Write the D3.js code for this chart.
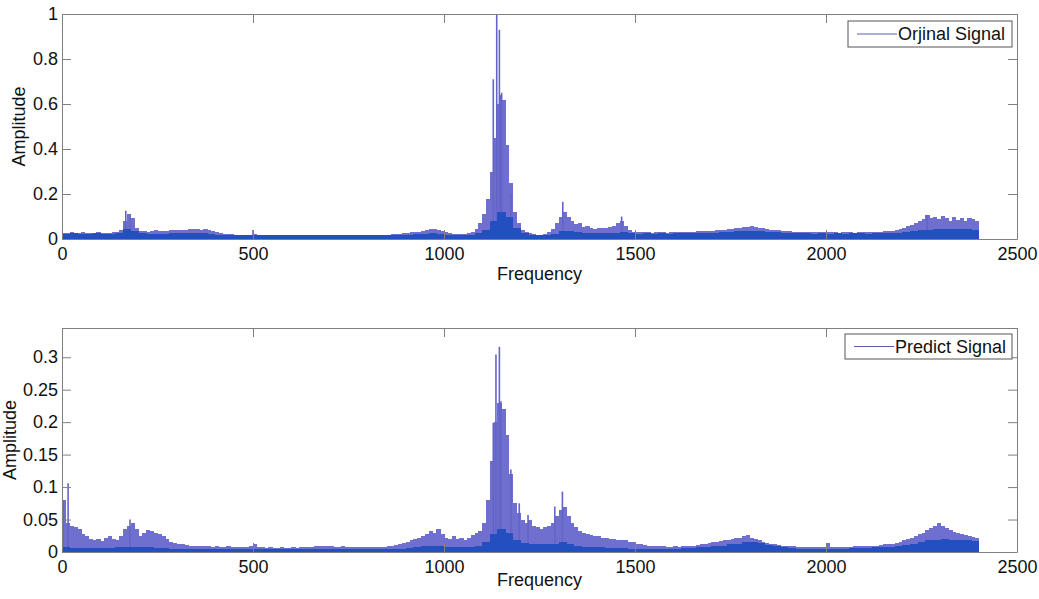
<!DOCTYPE html>
<html><head><meta charset="utf-8">
<script src="https://cdn.jsdelivr.net/npm/d3@7"></script>
<style>
body{margin:0;background:#fff;}
svg{display:block;font-family:"Liberation Sans",Arial,sans-serif;}
</style></head>
<body>
<svg id="c" width="1039" height="599"></svg>
<script>
// ---- data ----
const xTicks = [0, 500, 1000, 1500, 2000, 2500];
const topYTicks = [0, 0.2, 0.4, 0.6, 0.8, 1];
const botYTicks = [0, 0.05, 0.1, 0.15, 0.2, 0.25, 0.3];
const binStep = 10;      // Hz between envelope samples
const floorStep = 20;    // Hz between floor samples

// Orjinal Signal: upper envelope, 0..2390 Hz every 10 Hz
const origPeak = [
0.028,0.026,0.029,0.027,0.026,0.029,0.027,0.026,0.028,0.029,
0.026,0.027,0.028,0.029,0.032,0.042,0.080,0.110,0.095,0.050,
0.034,0.035,0.032,0.036,0.038,0.035,0.034,0.037,0.040,0.038,
0.040,0.042,0.041,0.044,0.046,0.043,0.042,0.045,0.040,0.036,
0.030,0.026,0.023,0.021,0.021,0.019,0.020,0.019,0.018,0.019,
0.022,0.018,0.017,0.018,0.017,0.016,0.017,0.018,0.017,0.016,
0.017,0.016,0.017,0.018,0.017,0.016,0.017,0.016,0.017,0.016,
0.016,0.017,0.016,0.017,0.018,0.017,0.017,0.018,0.017,0.018,
0.018,0.019,0.018,0.019,0.020,0.019,0.021,0.021,0.023,0.025,
0.026,0.029,0.031,0.033,0.036,0.041,0.043,0.046,0.041,0.036,
0.031,0.027,0.023,0.021,0.022,0.023,0.026,0.031,0.045,0.070,
0.110,0.180,0.300,0.450,0.600,0.620,0.420,0.250,0.120,0.070,
0.040,0.030,0.025,0.022,0.020,0.018,0.022,0.030,0.045,0.070,
0.100,0.120,0.100,0.080,0.065,0.070,0.055,0.060,0.050,0.045,
0.050,0.048,0.050,0.055,0.060,0.070,0.080,0.060,0.040,0.033,
0.031,0.030,0.029,0.030,0.028,0.029,0.030,0.029,0.028,0.030,
0.031,0.032,0.030,0.032,0.033,0.032,0.034,0.035,0.034,0.036,
0.037,0.039,0.040,0.042,0.044,0.046,0.047,0.050,0.052,0.054,
0.056,0.052,0.050,0.047,0.044,0.042,0.040,0.038,0.036,0.035,
0.034,0.033,0.032,0.032,0.031,0.030,0.032,0.031,0.030,0.029,
0.032,0.030,0.029,0.028,0.029,0.030,0.029,0.028,0.030,0.029,
0.031,0.032,0.031,0.032,0.033,0.034,0.035,0.037,0.040,0.045,
0.050,0.056,0.062,0.070,0.080,0.090,0.105,0.092,0.100,0.088,
0.104,0.092,0.082,0.098,0.086,0.094,0.082,0.092,0.088,0.078
];
// Orjinal Signal: dense lower band, 0..2380 Hz every 20 Hz
const origFloor = [
0.024,0.025,0.024,0.024,0.025,0.024,0.024,0.026,0.045,0.035,
0.025,0.023,0.023,0.024,0.025,0.025,0.026,0.025,0.025,0.023,
0.019,0.018,0.017,0.017,0.016,0.017,0.016,0.016,0.017,0.016,
0.016,0.016,0.017,0.016,0.016,0.017,0.016,0.017,0.017,0.017,
0.017,0.017,0.018,0.018,0.018,0.019,0.021,0.023,0.025,0.023,
0.019,0.018,0.018,0.019,0.027,0.042,0.080,0.120,0.100,0.050,
0.027,0.020,0.018,0.019,0.024,0.036,0.036,0.030,0.027,0.026,
0.026,0.027,0.028,0.029,0.025,0.024,0.025,0.024,0.025,0.024,
0.025,0.026,0.025,0.026,0.026,0.028,0.030,0.032,0.034,0.036,
0.037,0.034,0.031,0.029,0.027,0.026,0.025,0.025,0.024,0.025,
0.024,0.025,0.024,0.025,0.025,0.024,0.025,0.026,0.026,0.027,
0.030,0.036,0.040,0.042,0.044,0.045,0.044,0.043,0.043,0.042
];
// Orjinal Signal: isolated tall spikes
const origSpikeFreq = [167, 178, 500, 1129, 1138, 1145, 1148, 1151, 1175, 1311, 1465, 2265];
const origSpikeAmp  = [0.126, 0.093, 0.040, 0.710, 1.000, 0.930, 0.640, 0.650, 0.200, 0.166, 0.100, 0.107];

// Predict Signal: upper envelope, 0..2390 Hz every 10 Hz
const predPeak = [
0.080,0.045,0.040,0.038,0.035,0.028,0.025,0.020,0.018,0.020,
0.017,0.022,0.024,0.020,0.018,0.025,0.035,0.040,0.045,0.035,
0.025,0.030,0.034,0.032,0.030,0.028,0.025,0.020,0.016,0.014,
0.013,0.012,0.011,0.010,0.010,0.010,0.009,0.010,0.009,0.008,
0.009,0.008,0.008,0.009,0.008,0.008,0.007,0.008,0.008,0.010,
0.012,0.007,0.007,0.006,0.007,0.006,0.006,0.007,0.006,0.006,
0.007,0.006,0.007,0.007,0.008,0.008,0.009,0.009,0.010,0.009,
0.009,0.008,0.008,0.009,0.008,0.008,0.007,0.007,0.007,0.007,
0.007,0.007,0.007,0.008,0.008,0.009,0.010,0.011,0.012,0.014,
0.016,0.018,0.020,0.022,0.025,0.028,0.032,0.030,0.035,0.028,
0.022,0.020,0.024,0.020,0.022,0.018,0.022,0.026,0.030,0.032,
0.045,0.080,0.140,0.200,0.230,0.220,0.180,0.120,0.075,0.060,
0.050,0.045,0.050,0.040,0.038,0.035,0.038,0.040,0.045,0.055,
0.065,0.070,0.055,0.045,0.038,0.032,0.030,0.028,0.026,0.025,
0.024,0.022,0.021,0.020,0.020,0.019,0.018,0.018,0.016,0.015,
0.013,0.012,0.011,0.010,0.010,0.009,0.009,0.009,0.008,0.008,
0.009,0.008,0.009,0.009,0.010,0.010,0.011,0.012,0.013,0.014,
0.015,0.016,0.017,0.018,0.019,0.020,0.022,0.021,0.024,0.026,
0.022,0.020,0.018,0.016,0.014,0.013,0.012,0.011,0.010,0.010,
0.009,0.009,0.008,0.008,0.008,0.007,0.007,0.007,0.008,0.007,
0.014,0.007,0.008,0.008,0.007,0.008,0.008,0.009,0.009,0.010,
0.009,0.009,0.010,0.010,0.011,0.012,0.012,0.013,0.014,0.016,
0.018,0.020,0.022,0.025,0.028,0.030,0.034,0.037,0.040,0.044,
0.040,0.037,0.034,0.031,0.029,0.027,0.026,0.025,0.023,0.021
];
// Predict Signal: dense lower band, 0..2380 Hz every 20 Hz
const predFloor = [
0.008,0.006,0.006,0.006,0.006,0.006,0.006,0.007,0.008,0.008,
0.007,0.007,0.006,0.006,0.005,0.005,0.005,0.005,0.005,0.004,
0.005,0.004,0.004,0.005,0.004,0.004,0.004,0.004,0.004,0.004,
0.004,0.004,0.005,0.005,0.005,0.005,0.005,0.004,0.004,0.004,
0.004,0.004,0.004,0.005,0.005,0.006,0.008,0.010,0.010,0.009,
0.007,0.007,0.008,0.008,0.010,0.015,0.028,0.035,0.030,0.018,
0.014,0.013,0.012,0.012,0.013,0.015,0.013,0.010,0.008,0.007,
0.007,0.006,0.006,0.006,0.005,0.005,0.005,0.005,0.005,0.005,
0.005,0.006,0.006,0.007,0.008,0.009,0.010,0.012,0.013,0.015,
0.016,0.014,0.011,0.009,0.007,0.006,0.005,0.005,0.005,0.005,
0.005,0.005,0.005,0.006,0.006,0.006,0.007,0.007,0.008,0.009,
0.011,0.013,0.016,0.018,0.019,0.020,0.019,0.019,0.018,0.017
];
// Predict Signal: isolated tall spikes
const predSpikeFreq = [2, 16, 178, 1129, 1136, 1145, 1149, 1175, 1197, 1220, 1290, 1310];
const predSpikeAmp  = [0.080, 0.106, 0.050, 0.199, 0.304, 0.316, 0.232, 0.127, 0.075, 0.057, 0.070, 0.093];

// ---- drawing ----
const svg = d3.select("#c");
const LIGHT = "#6f6fd0", DARK = "#2350c0", SPIKE = "#6464c8";
const BOX = "#808080";
const FS = 18;

function panel(cfg) {
  const x = d3.scaleLinear().domain([0, 2500]).range([62, 1017]);
  const y = d3.scaleLinear().domain([0, cfg.ymax]).range([cfg.bottom, cfg.top]);
  const g = svg.append("g");

  // light envelope bars
  g.append("g").attr("shape-rendering", "crispEdges")
    .selectAll("rect").data(cfg.peak).join("rect")
    .attr("x", (d, i) => x(i * binStep))
    .attr("width", (d, i) => x((i + 1) * binStep) - x(i * binStep) + 0.5)
    .attr("y", d => y(d))
    .attr("height", d => y(0) - y(d))
    .attr("fill", LIGHT);

  // spikes
  g.append("g").selectAll("line").data(cfg.spikeF).join("line")
    .attr("x1", d => x(d)).attr("x2", d => x(d))
    .attr("y1", y(0)).attr("y2", (d, i) => y(cfg.spikeA[i]))
    .attr("stroke", SPIKE).attr("stroke-width", 1.6);

  // dark dense band
  g.append("g").attr("shape-rendering", "crispEdges")
    .selectAll("rect").data(cfg.floor).join("rect")
    .attr("x", (d, i) => x(i * floorStep))
    .attr("width", (d, i) => x((i + 1) * floorStep) - x(i * floorStep) + 0.5)
    .attr("y", d => y(d))
    .attr("height", d => y(0) - y(d))
    .attr("fill", DARK);

  // axes (MATLAB style box, inward ticks)
  const styleAxis = sel => {
    sel.selectAll("path.domain").attr("stroke", BOX);
    sel.selectAll(".tick line").attr("stroke", BOX);
    sel.selectAll(".tick text").attr("fill", "#111").style("font-size", FS + "px")
      .style("font-family", '"Liberation Sans", Arial, sans-serif');
  };
  g.append("g").attr("transform", `translate(0,${cfg.bottom})`)
    .call(d3.axisBottom(x).tickValues(xTicks).tickFormat(d3.format("d"))
      .tickSizeInner(-9).tickSizeOuter(0).tickPadding(8)).call(styleAxis);
  g.append("g").attr("transform", `translate(0,${cfg.top})`)
    .call(d3.axisTop(x).tickValues(xTicks).tickFormat("")
      .tickSizeInner(-9).tickSizeOuter(0)).call(styleAxis);
  g.append("g").attr("transform", `translate(62,0)`)
    .call(d3.axisLeft(y).tickValues(cfg.yTicks).tickFormat(d => String(+d.toFixed(2)))
      .tickSizeInner(-9).tickSizeOuter(0).tickPadding(4)).call(styleAxis);
  g.append("g").attr("transform", `translate(1017,0)`)
    .call(d3.axisRight(y).tickValues(cfg.yTicks).tickFormat("")
      .tickSizeInner(-9).tickSizeOuter(0)).call(styleAxis);
  g.selectAll(".domain").attr("fill", "none");

  // axis labels
  g.append("text").attr("x", 539.5).attr("y", cfg.xlabY).attr("text-anchor", "middle")
    .style("font-size", FS + "px").attr("fill", "#111").text("Frequency");
  g.append("text").attr("transform", `translate(${cfg.ylabX},${(cfg.top + cfg.bottom) / 2}) rotate(-90)`)
    .attr("text-anchor", "middle").style("font-size", FS + "px").attr("fill", "#111").text("Amplitude");

  // legend
  const L = cfg.legend;
  g.append("rect").attr("x", L.x).attr("y", L.y).attr("width", L.w).attr("height", L.h)
    .attr("fill", "#fff").attr("stroke", "#555").attr("stroke-width", 1);
  g.append("line").attr("x1", L.x + 9).attr("x2", L.x + 49)
    .attr("y1", L.y + L.h / 2).attr("y2", L.y + L.h / 2)
    .attr("stroke", "#5a5ea8").attr("stroke-width", 1);
  g.append("text").attr("x", L.x + 50).attr("y", L.y + 19)
    .style("font-size", FS + "px").attr("fill", "#111").text(L.label);
}

panel({top: 14, bottom: 239, ymax: 1, yTicks: topYTicks,
  peak: origPeak, floor: origFloor, spikeF: origSpikeFreq, spikeA: origSpikeAmp,
  xlabY: 280, ylabX: 25,
  legend: {x: 848, y: 21, w: 164, h: 26, label: "Orjinal Signal"}});

panel({top: 328, bottom: 552, ymax: 0.345, yTicks: botYTicks,
  peak: predPeak, floor: predFloor, spikeF: predSpikeFreq, spikeA: predSpikeAmp,
  xlabY: 586, ylabX: 16,
  legend: {x: 845, y: 334, w: 167, h: 25, label: "Predict Signal"}});
</script>
</body></html>
